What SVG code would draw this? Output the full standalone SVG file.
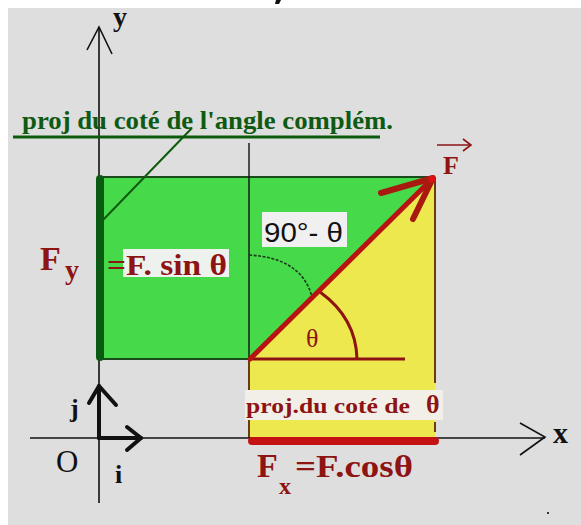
<svg xmlns="http://www.w3.org/2000/svg" width="581" height="525" viewBox="0 0 581 525">
<defs>
<style>
.serif{font-family:"Liberation Serif","Times New Roman",serif;font-weight:bold}
.red{fill:#8e1414}
.blk{fill:#111}
.grn{fill:#0f5a12;font-size:25px}
.ax{stroke:#111;stroke-width:1.6;fill:none}
.vec{stroke:#111;stroke-width:4;fill:none;stroke-linecap:round;stroke-linejoin:round}
</style>
</defs>
<rect x="0" y="0" width="581" height="525" fill="#dedede"/>
<rect x="0" y="0" width="581" height="8" fill="#ffffff"/>
<rect x="0" y="0" width="8" height="525" fill="#ffffff"/>
<path d="M276,0 L281,0 L279,4 L275,4 Z" fill="#111"/>

<g id="regions">
<rect x="99" y="177" width="336" height="182" fill="#46da4b"/>
<polygon points="250,359 435,177 435,438 248,438" fill="#ece84e"/>
<polygon points="250,359 435,177 248,177" fill="#46da4b"/>
<line x1="99" y1="177" x2="435" y2="177" stroke="#1b4a1b" stroke-width="2"/>
<line x1="99" y1="359" x2="250" y2="359" stroke="#1b4a1b" stroke-width="2"/>
<line x1="435" y1="177" x2="435" y2="383" stroke="#6a3a10" stroke-width="2"/>
<line x1="435" y1="422" x2="435" y2="432" stroke="#6a3a10" stroke-width="2"/>
<line x1="249" y1="143" x2="249" y2="359" stroke="#111" stroke-width="1.4"/>
<line x1="249" y1="359" x2="249" y2="390" stroke="#6a3a10" stroke-width="2"/>
<line x1="249" y1="420" x2="249" y2="438" stroke="#6a3a10" stroke-width="2"/>
</g>

<g id="connectors">
<line class="ax" x1="99" y1="27" x2="99" y2="503"/>
<polyline class="ax" points="87,50 99,27 112,54"/>
<line class="ax" x1="30" y1="438" x2="545" y2="438"/>
<polyline class="ax" points="520,423 545,437 520,455"/>
<line x1="100" y1="179" x2="100" y2="357" stroke="#0b5a12" stroke-width="8" stroke-linecap="round"/>
<line x1="252" y1="441" x2="435" y2="441" stroke="#c41212" stroke-width="8" stroke-linecap="round"/>
<line x1="13" y1="137" x2="380" y2="137" stroke="#0d5a0d" stroke-width="3"/>
<line x1="192" y1="128" x2="103" y2="220" stroke="#0d5a0d" stroke-width="2"/>
<path d="M249,255 Q302,258 312,297" fill="none" stroke="#1a3a1a" stroke-width="1.6" stroke-dasharray="3,1.5"/>
<path d="M320,292 Q356,318 357,359" fill="none" stroke="#8e1414" stroke-width="3"/>
<line x1="250" y1="359" x2="405" y2="359" stroke="#8e1414" stroke-width="3"/>
<line x1="250" y1="359" x2="432" y2="179" stroke="#b81212" stroke-width="5" stroke-linecap="round"/>
<polyline points="381,193 433,178 413,219" fill="none" stroke="#a81a10" stroke-width="6" stroke-linecap="round" stroke-linejoin="round"/>
<circle cx="432" cy="179" r="3.5" fill="#e01010"/>
<line x1="437" y1="145" x2="471" y2="145" stroke="#8e1414" stroke-width="1.6"/>
<polyline points="463,139 471,145 463,151" fill="none" stroke="#8e1414" stroke-width="1.6"/>
<polyline class="vec" points="99,438 99,386"/>
<polyline class="vec" points="89,403 99,386 116,405"/>
<polyline class="vec" points="99,438 141,438"/>
<polyline class="vec" points="127,427 141,438 127,450"/>
</g>

<g id="label-complem">
<text class="serif grn" x="22" y="129" textLength="371" lengthAdjust="spacingAndGlyphs">proj du coté de l'angle complém.</text>
</g>

<g id="label-Fy">
<text class="serif red" x="40" y="270" font-size="34">F</text>
<text class="serif red" x="65" y="279" font-size="28">y</text>
<rect x="123" y="249" width="106" height="28" fill="#eef2ee"/>
<text class="serif red" x="107" y="275" font-size="30" textLength="120" lengthAdjust="spacingAndGlyphs">=F. sin θ</text>
</g>

<g id="label-complement-angle">
<rect x="262" y="212" width="85" height="35" fill="#f0f0f0"/>
<text x="264" y="242" font-family="Liberation Sans, Arial, sans-serif" font-size="28" fill="#111" textLength="79" lengthAdjust="spacingAndGlyphs">90°- θ</text>
</g>

<g id="label-theta">
<text x="306" y="347" font-family="Liberation Serif, serif" font-size="26" class="red">θ</text>
</g>

<g id="label-F">
<text class="serif red" x="443" y="174" font-size="26">F</text>
</g>

<g id="label-proj-theta">
<rect x="245" y="390" width="198" height="30" fill="#f2efe8"/>
<text class="serif red" x="246" y="413" font-size="22" textLength="164" lengthAdjust="spacingAndGlyphs">proj.du coté de</text>
<text class="serif red" x="426" y="413" font-size="26">θ</text>
</g>

<g id="label-Fx">
<text class="serif red" x="257" y="477" font-size="34">F</text>
<text class="serif red" x="279" y="494" font-size="24">x</text>
<text class="serif red" x="295" y="477" font-size="32" textLength="118" lengthAdjust="spacingAndGlyphs">=F.cosθ</text>
</g>

<g id="label-axes">
<text class="serif blk" x="113" y="26" font-size="28">y</text>
<text class="serif blk" x="553" y="443" font-size="30">x</text>
<text class="serif blk" x="70" y="417" font-size="26">j</text>
<text x="56" y="472" font-family="Liberation Serif, serif" font-size="31" fill="#111">O</text>
<text class="serif blk" x="115" y="483" font-size="26">i</text>
</g>
<rect x="547" y="512" width="2" height="2" fill="#333"/>
</svg>
